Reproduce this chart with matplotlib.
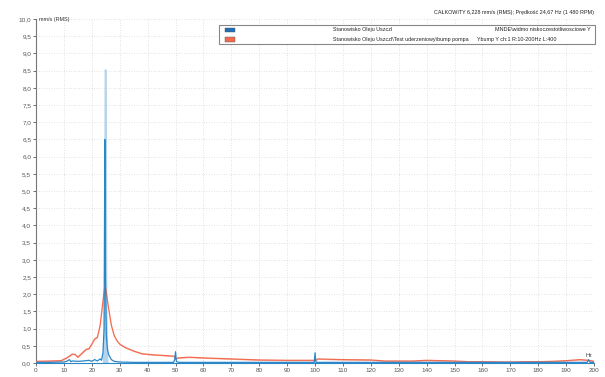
import numpy as np
import matplotlib.pyplot as plt
from matplotlib.patches import Rectangle

plt.rcParams['font.family'] = ['Liberation Sans', 'DejaVu Sans']

# red series: Ybump Y (impact test)
red_freq = [0, 5, 9, 11, 13, 14, 15, 16, 18, 19, 20, 21, 22, 23, 24, 24.7, 25, 26, 27, 28, 29, 30,
            32, 35, 38, 42, 46, 49.5, 50, 51, 55, 60, 70, 80, 90, 99.5, 100, 101, 105, 110, 120,
            125, 130, 135, 140, 145, 150, 155, 160, 170, 175, 180, 185, 190, 195, 198, 200]
red_amp = [0.05, 0.06, 0.07, 0.15, 0.26, 0.25, 0.17, 0.25, 0.4, 0.42, 0.55, 0.7, 0.75, 1.1, 1.8, 2.25,
           2.15, 1.6, 1.1, 0.8, 0.65, 0.55, 0.45, 0.35, 0.27, 0.24, 0.22, 0.2, 0.12, 0.15, 0.17, 0.15,
           0.12, 0.09, 0.08, 0.08, 0.07, 0.12, 0.11, 0.1, 0.09, 0.06, 0.06, 0.06, 0.08, 0.07, 0.06,
           0.04, 0.04, 0.03, 0.04, 0.04, 0.05, 0.07, 0.1, 0.08, 0.05]

# blue series: low frequency spectrum
blue_freq = [0, 5, 10, 11, 12, 12.5, 13, 15, 17, 19, 20, 21, 22, 23, 23.5, 24, 24.4, 24.67, 24.9,
             25.2, 25.6, 26, 27, 28, 30, 35, 49.3, 49.7, 50, 50.3, 51, 60, 99.7, 100, 100.3,
             110, 150, 197.5, 198, 198.5, 200]
blue_amp = [0.02, 0.02, 0.03, 0.05, 0.1, 0.04, 0.06, 0.05, 0.06, 0.08, 0.05, 0.1, 0.06, 0.12, 0.08,
            0.3, 1.0, 6.5, 2.5, 0.8, 0.4, 0.25, 0.1, 0.05, 0.03, 0.02, 0.02, 0.1, 0.33, 0.05, 0.02,
            0.02, 0.02, 0.3, 0.02, 0.02, 0.02, 0.02, 0.1, 0.02, 0.02]
# light blue envelope around the running speed peak
env_freq = [23.8, 24.2, 24.4, 25.2, 25.4, 25.8]
env_amp = [0.0, 1.5, 8.55, 8.55, 1.5, 0.0]

fig = plt.figure(figsize=(6.05, 3.77), dpi=100)
ax = fig.add_axes([0.0595, 0.037, 0.9225, 0.9125])

ax.fill_between(env_freq, 0, env_amp, color="#b3d4ec", lw=0, zorder=2)
ax.fill_between(red_freq, np.array(red_amp) - 0.015, np.array(red_amp) + 0.015,
                color="#f7b5a8", lw=0, zorder=2)
ax.plot(red_freq, red_amp, color="#f26b4f", lw=0.9, zorder=3)
ax.plot(blue_freq, blue_amp, color="#2b86c8", lw=0.9, zorder=4)

ax.set_xlim(0, 200)
ax.set_ylim(0, 10)
ax.set_xticks(np.arange(0, 201, 10))
ax.set_yticks(np.arange(0, 10.01, 0.5))
ax.set_xticklabels([str(v) for v in range(0, 201, 10)])
ax.set_yticklabels([("%.1f" % v).replace(".", ",") for v in np.arange(0, 10.01, 0.5)])
ax.tick_params(labelsize=4.6, length=2, width=0.6, colors="#555555", pad=1.5)
ax.grid(True, color="#d8d8d8", linestyle=(0, (1, 2)), lw=0.6)
for s in ["top", "right"]:
    ax.spines[s].set_visible(False)
ax.spines["left"].set_color("#777777")
ax.spines["bottom"].set_color("#2b86c8")

fs = 3.9
ax.text(0.005, 1.0, "mm/s (RMS)", transform=ax.transAxes, fontsize=fs, color="#333333",
        va="center", ha="left")
ax.text(1.0, 1.012, "CAŁKOWITY 6,228 mm/s (RMS); Prędkość 24,67 Hz (1 480 RPM)",
        transform=ax.transAxes, fontsize=fs, color="#222222", va="bottom", ha="right")
ax.text(0.997, 0.015, "Hz", transform=ax.transAxes, fontsize=fs, color="#333333",
        va="bottom", ha="right")

# legend box
fig.patches.append(Rectangle((0.362, 0.882), 0.622, 0.053, transform=fig.transFigure,
                             fill=True, facecolor="white", edgecolor="#888888", lw=0.8))
rows = [("#1f6fb8", "Stanowisko Oleju Uszczl", "MNDE\\widmo niskoczestotliwosciowe Y"),
        ("#f26b4f", "Stanowisko Oleju Uszczl\\Test uderzeniowy\\bump pompa",
         "Ybump Y ch:1 R:10-200Hz L:400")]
for i, (c, name, desc) in enumerate(rows):
    y = 0.921 - i * 0.025
    fig.patches.append(Rectangle((0.372, y - 0.007), 0.017, 0.013, transform=fig.transFigure,
                                 facecolor=c, edgecolor="#555555", lw=0.3))
    fig.text(0.551, y, name, fontsize=fs, va="center", ha="left", color="#222222")
    if i == 0:
        fig.text(0.977, y, desc, fontsize=fs, va="center", ha="right", color="#222222")
    else:
        fig.text(0.788, y, desc, fontsize=fs, va="center", ha="left", color="#222222")

fig.savefig("out.png", dpi=100)
